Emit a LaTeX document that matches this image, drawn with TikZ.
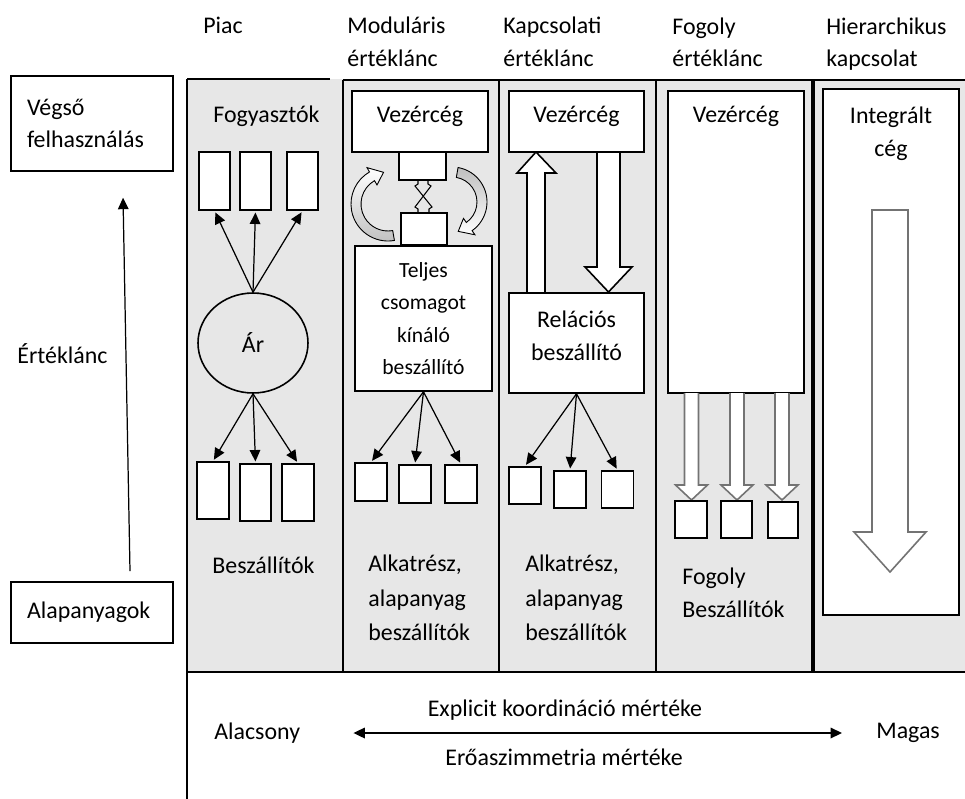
\documentclass[tikz,border=0pt]{standalone}
\usepackage{fontspec}
\setmainfont{Carlito}
\usetikzlibrary{arrows.meta, shapes.geometric}

\definecolor{panelgray}{RGB}{231,231,231}
\definecolor{blockgray}{RGB}{115,115,115}

\tikzset{
  panel/.style={line width=1pt},
  box/.style={draw, fill=white, line width=0.9pt, inner sep=0pt},
  lbl/.style={anchor=west, align=left, inner sep=0pt},
  arr/.style={line width=0.7pt, -{Stealth[inset=0pt, length=6.5pt, width=6pt]}, shorten >=1pt},
  blk/.style={draw, fill=white, line width=0.9pt},
  gblk/.style={draw=blockgray, fill=white, line width=0.9pt},
  curv/.style={draw, line width=0.5pt},
}

\begin{document}
\begin{tikzpicture}[x=0.02cm, y=-0.02cm, font=\fontsize{13.6}{18.5}\selectfont]
\useasboundingbox (0,0) rectangle (965,799);

% gray band and columns
\fill[panelgray] (187,79) rectangle (965,672);
\draw[panel] (187,79) -- (330,79);
\draw[panel] (343,80) -- (965,80);
\draw[panel] (187,79) -- (187,799);
\draw[panel] (187,672) -- (965,672);
\foreach \x in {343,499,656}
  \draw[panel] (\x,80) -- (\x,672);
\draw[panel, line width=1.8pt] (813,80) -- (813,672);

% column titles
\node[lbl] (piac) at (203,25) {Piac};
\node[lbl] (modul) at (347,42) {Moduláris\\értéklánc};
\node[lbl] (kapcs) at (503,42) {Kapcsolati\\értéklánc};
\node[lbl] (fogoly) at (672,42.5) {Fogoly\\értéklánc};
\node[lbl] (hier) at (826,44) {Hierarchikus\\kapcsolat};

% value chain axis
\node[box, minimum width=3.24cm, minimum height=1.9cm, text width=2.6cm, align=left] (vegso) at (92,123.5) {Végső\\felhasználás};
\node[box, minimum width=3.24cm, minimum height=1.22cm, text width=2.6cm, align=left] (alap) at (92,612.5) {Alapanyagok};
\node[lbl] (ertek) at (17,354) {Értéklánc};
\coordinate (ek1) at (130,571);
\coordinate (ek2) at (123,196);
\draw[arr] (ek1) -- (ek2);

% Piac
\node[lbl] (fogy) at (213,116) {Fogyasztók};
\node[box, minimum width=0.62cm, minimum height=1.16cm] (c1) at (214.5,181) {};
\node[box, minimum width=0.62cm, minimum height=1.16cm] (c2) at (255.5,181) {};
\node[box, minimum width=0.62cm, minimum height=1.16cm] (c3) at (302.5,181) {};
\node[draw, ellipse, line width=0.9pt, minimum width=2.2cm, minimum height=2.0cm] (ar) at (253,343) {Ár};
\node[box, minimum width=0.64cm, minimum height=1.14cm] (s1) at (213,490.5) {};
\node[box, minimum width=0.62cm, minimum height=1.14cm] (s2) at (255.5,492.5) {};
\node[box, minimum width=0.64cm, minimum height=1.14cm] (s3) at (298,492.5) {};
\foreach \n in {c1,c2,c3}
  \draw[arr] (ar.north) -- (\n.south);
\foreach \n in {s1,s2,s3}
  \draw[arr] (ar.south) -- (\n.north);
\node[lbl] (besz) at (212,565) {Beszállítók};

% Modularis
\node[box, minimum width=2.72cm, minimum height=1.22cm, text depth=0.28cm] (mvez) at (420,121.5) {Vezércég};
\node[box, minimum width=0.94cm, minimum height=0.56cm] (mu1) at (422.5,166) {};
\node[box, minimum width=0.92cm, minimum height=0.64cm] (mu2) at (424,229) {};
\draw[line width=0.6pt] (418,180) -- (418,184) -- (415,186) -- (432,207) -- (429,209) -- (429,213);
\draw[line width=0.6pt] (428,180) -- (428,184) -- (431,186) -- (415,207) -- (418,209) -- (418,213);
\begin{scope}[shift={(388,204)}]
  \filldraw[curv, top color=white, bottom color=black!25] (80:37) arc[start angle=80, end angle=240, radius=37]
    -- (240:42) -- (262:32) -- (240:22) -- (240:27) arc[start angle=240, end angle=80, radius=27] -- cycle;
\end{scope}
\begin{scope}[shift={(452,202)}]
  \filldraw[curv, top color=black!25, bottom color=white] (280:35) arc[start angle=280, end angle=415, radius=35]
    -- (415:40) -- (438:30) -- (415:20) -- (415:25) arc[start angle=415, end angle=280, radius=25] -- cycle;
\end{scope}
\node[box, minimum width=2.74cm, minimum height=2.9cm, align=center, font=\fontsize{12.3}{18.4}\selectfont] (teljes) at (423.5,318.5) {Teljes\\csomagot\\kínáló\\beszállító};
\node[box, minimum width=0.64cm, minimum height=0.76cm] (m1) at (371,482) {};
\node[box, minimum width=0.64cm, minimum height=0.76cm] (m2) at (415,484) {};
\node[box, minimum width=0.64cm, minimum height=0.76cm] (m3) at (461,484) {};
\foreach \n in {m1,m2,m3}
  \draw[arr] (teljes.south) -- (\n.north);
\node[lbl, font=\fontsize{13.6}{19.5}\selectfont] (malk) at (368,598) {Alkatrész,\\alapanyag\\beszállítók};

% Kapcsolati
\draw[blk] (527,293) -- (527,173) -- (517,173) -- (536,152) -- (556,173) -- (545,173) -- (545,293);
\draw[blk] (597,152) -- (597,267) -- (585,267) -- (608.5,292) -- (632,267) -- (620,267) -- (620,152);
\node[box, minimum width=2.7cm, minimum height=1.22cm, text depth=0.28cm] (kvez) at (576.5,121.5) {Vezércég};
\node[box, minimum width=2.7cm, minimum height=2.0cm] (rel) at (576.5,343) {};
\node[align=center] (reltxt) at (576.5,336) {Relációs\\beszállító};
\node[box, minimum width=0.64cm, minimum height=0.74cm] (k1) at (525,485.5) {};
\node[box, minimum width=0.64cm, minimum height=0.74cm] (k2) at (570,489.5) {};
\node[box, minimum width=0.64cm, minimum height=0.74cm] (k3) at (617.5,489.5) {};
\foreach \n in {k1,k2,k3}
  \draw[arr] (rel.south) -- (\n.north);
\node[lbl, font=\fontsize{13.6}{19.5}\selectfont] (kalk) at (525,598) {Alkatrész,\\alapanyag\\beszállítók};

% Fogoly
\node[box, minimum width=2.72cm, minimum height=6.04cm] (fbox) at (736,242) {};
\node (fvez) at (736,116) {Vezércég};
\foreach \cx in {691.5,737,782}
  \draw[gblk] (\cx-7,393) -- (\cx-7,485) -- (\cx-16,485) -- (\cx,500) -- (\cx+16,485) -- (\cx+7,485) -- (\cx+7,393);
\node[box, minimum width=0.64cm, minimum height=0.74cm] (f1) at (691,519.5) {};
\node[box, minimum width=0.62cm, minimum height=0.74cm] (f2) at (736.5,519.5) {};
\node[box, minimum width=0.6cm, minimum height=0.72cm] (f3) at (783,520) {};
\node[lbl] (fbesz) at (682,593) {Fogoly\\Beszállítók};

% Hierarchikus
\node[box, minimum width=2.72cm, minimum height=10.52cm] (ibox) at (891,352) {};
\node[align=center] (integ) at (891,134) {Integrált\\cég};
\draw[gblk] (872,210) -- (872,532) -- (854,532) -- (890,572) -- (926,532) -- (908,532) -- (908,210) -- cycle;

% bottom scale
\node[lbl] (alacs) at (214,733) {Alacsony};
\node[lbl] (magas) at (876,733) {Magas};
\draw[line width=0.9pt, {Stealth[inset=0pt, length=6.5pt, width=6pt]}-{Stealth[inset=0pt, length=6.5pt, width=6pt]}, shorten <=1.06cm, shorten >=0.68cm] (alacs) -- (magas);
\node (expl) at (565,710) {Explicit koordináció mértéke};
\node (ero) at (564,757) {Erőaszimmetria mértéke};
\end{tikzpicture}
\end{document}
